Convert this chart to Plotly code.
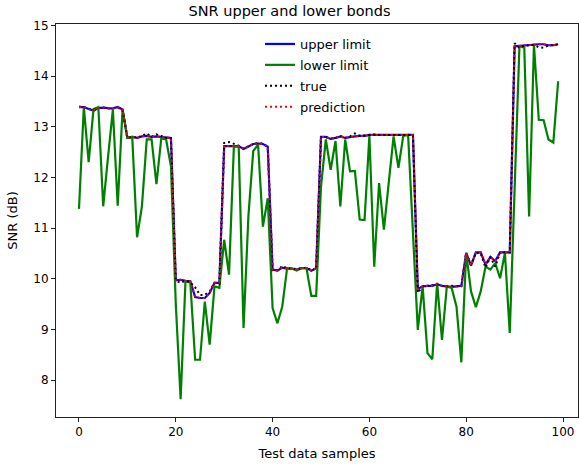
import plotly.graph_objects as go

samples = list(range(100))

upper_limit = [
    13.39, 13.39, 13.35, 13.32, 13.37, 13.38, 13.37, 13.36, 13.39, 13.34,
    12.78, 12.80, 12.78, 12.81, 12.82, 12.80, 12.81, 12.80, 12.78, 12.78,
    9.97, 9.98, 9.96, 9.95, 9.64, 9.62, 9.62, 9.72, 9.92, 9.92,
    12.62, 12.62, 12.61, 12.62, 12.56, 12.61, 12.66, 12.67, 12.66, 12.61,
    10.18, 10.16, 10.22, 10.20, 10.20, 10.18, 10.21, 10.21, 10.16, 10.21,
    12.80, 12.80, 12.76, 12.78, 12.81, 12.78, 12.80, 12.81, 12.82, 12.82,
    12.84, 12.84, 12.84, 12.84, 12.84, 12.84, 12.84, 12.84, 12.84, 12.84,
    9.80, 9.85, 9.86, 9.86, 9.89, 9.86, 9.85, 9.84, 9.85, 9.86,
    10.51, 10.26, 10.52, 10.52, 10.28, 10.43, 10.35, 10.52, 10.52, 10.52,
    14.59, 14.60, 14.61, 14.61, 14.63, 14.63, 14.63, 14.61, 14.61, 14.63,
]

lower_limit = [
    11.38, 13.39, 12.30, 13.35, 13.39, 11.43, 12.40, 13.34, 11.44, 13.34,
    12.78, 12.80, 10.82, 11.43, 12.75, 12.75, 11.87, 12.77, 12.75, 12.22,
    9.50, 7.62, 9.95, 9.92, 8.40, 8.40, 9.55, 8.70, 9.85, 9.82,
    10.77, 10.08, 12.61, 12.61, 9.03, 11.23, 12.52, 12.65, 11.03, 11.59,
    9.42, 9.12, 9.45, 10.21, 10.20, 10.16, 10.21, 10.21, 9.66, 9.66,
    11.82, 12.75, 12.15, 12.72, 11.43, 12.75, 12.12, 12.13, 11.17, 11.16,
    12.82, 10.24, 11.89, 10.97, 11.90, 12.81, 12.19, 12.82, 12.84, 11.00,
    8.99, 9.85, 8.53, 8.41, 9.92, 8.79, 9.85, 9.82, 9.45, 8.35,
    10.51, 9.75, 9.44, 9.75, 10.24, 10.18, 10.31, 10.01, 10.51, 8.93,
    11.76, 14.59, 14.56, 11.23, 14.62, 13.14, 13.13, 12.75, 12.69, 13.90,
]

true_values = [
    13.40, 13.39, 13.36, 13.33, 13.37, 13.38, 13.36, 13.37, 13.38, 13.33,
    12.78, 12.80, 12.79, 12.82, 12.87, 12.80, 12.85, 12.82, 12.78, 12.77,
    9.96, 9.92, 9.96, 9.93, 9.83, 9.68, 9.68, 9.75, 9.92, 9.90,
    12.68, 12.70, 12.66, 12.63, 12.57, 12.62, 12.66, 12.68, 12.67, 12.60,
    10.17, 10.17, 10.25, 10.21, 10.20, 10.19, 10.21, 10.22, 10.17, 10.20,
    12.80, 12.80, 12.77, 12.78, 12.82, 12.78, 12.81, 12.87, 12.82, 12.83,
    12.84, 12.85, 12.84, 12.84, 12.85, 12.84, 12.84, 12.85, 12.84, 12.84,
    9.72, 9.85, 9.86, 9.87, 9.89, 9.86, 9.85, 9.86, 9.85, 9.85,
    10.51, 10.28, 10.51, 10.50, 10.22, 10.43, 10.24, 10.52, 10.52, 10.52,
    14.65, 14.56, 14.60, 14.61, 14.62, 14.57, 14.56, 14.61, 14.61, 14.63,
]

prediction = [
    13.39, 13.39, 13.35, 13.32, 13.37, 13.38, 13.37, 13.36, 13.39, 13.34,
    12.78, 12.80, 12.78, 12.81, 12.82, 12.80, 12.81, 12.80, 12.78, 12.78,
    9.97, 9.98, 9.96, 9.95, 9.64, 9.62, 9.62, 9.72, 9.92, 9.92,
    12.62, 12.62, 12.61, 12.62, 12.56, 12.61, 12.66, 12.67, 12.66, 12.61,
    10.18, 10.16, 10.22, 10.20, 10.20, 10.18, 10.21, 10.21, 10.16, 10.21,
    12.80, 12.80, 12.76, 12.78, 12.81, 12.78, 12.80, 12.81, 12.82, 12.82,
    12.84, 12.84, 12.84, 12.84, 12.84, 12.84, 12.84, 12.84, 12.84, 12.84,
    9.80, 9.85, 9.86, 9.86, 9.89, 9.86, 9.85, 9.84, 9.85, 9.86,
    10.51, 10.26, 10.52, 10.52, 10.28, 10.43, 10.35, 10.52, 10.52, 10.52,
    14.59, 14.60, 14.61, 14.61, 14.63, 14.63, 14.63, 14.61, 14.61, 14.63,
]

x_ticks = [0, 20, 40, 60, 80, 100]
y_ticks = [8, 9, 10, 11, 12, 13, 14, 15]

FONT = "DejaVu Sans"

fig = go.Figure()
fig.add_trace(go.Scatter(x=samples, y=upper_limit, mode="lines", name="upper limit",
                         legendgroup="a", line=dict(color="#0000ff", width=2.2)))
fig.add_trace(go.Scatter(x=samples, y=lower_limit, mode="lines", name="lower limit",
                         legendgroup="b", line=dict(color="#008000", width=2.2)))
fig.add_trace(go.Scatter(x=samples, y=true_values, mode="lines", name="true",
                         legendgroup="c", line=dict(color="#000000", width=2, dash="2px,3px")))
fig.add_trace(go.Scatter(x=samples, y=prediction, mode="lines", name="prediction",
                         legendgroup="d", line=dict(color="#ff0000", width=2, dash="2px,3px")))

axis_common = dict(showgrid=False, zeroline=False, showline=True, linecolor="#222222",
                   linewidth=1, mirror=True, ticks="outside", ticklen=4, tickwidth=1,
                   tickcolor="#222222", automargin=False,
                   tickfont=dict(family=FONT, size=12, color="#000000"))

fig.update_layout(
    width=579, height=467,
    margin=dict(l=56, r=1, t=24, b=50, autoexpand=False),
    paper_bgcolor="white", plot_bgcolor="white",
    font=dict(family=FONT, size=12, color="#000000"),
    title=dict(text="SNR upper and lower bonds", x=0.5, xref="container", xanchor="center",
               y=1 - 11 / 467, yref="container", yanchor="middle", automargin=False,
               font=dict(family=FONT, size=14.5, color="#000000")),
    xaxis=dict(range=[-4.75, 103.1], tickvals=x_ticks, ticktext=[str(v) for v in x_ticks],
               title=dict(text="Test data samples", font=dict(family=FONT, size=13), standoff=10),
               **axis_common),
    yaxis=dict(range=[7.27, 15.03], tickvals=y_ticks, ticktext=[str(v) for v in y_ticks],
               title=dict(text="SNR (dB)", font=dict(family=FONT, size=13), standoff=12),
               **axis_common),
    legend=dict(x=(260 - 56) / 522, xanchor="left", y=1 - (29 - 24) / 393, yanchor="top",
                bgcolor="rgba(0,0,0,0)", borderwidth=0, traceorder="grouped",
                tracegroupgap=1, font=dict(family=FONT, size=13, color="#000000")),
    showlegend=True,
)

fig.write_html("out.html", config={"displayModeBar": False},
               post_script="document.body.style.margin='0';document.body.style.padding='0';")
